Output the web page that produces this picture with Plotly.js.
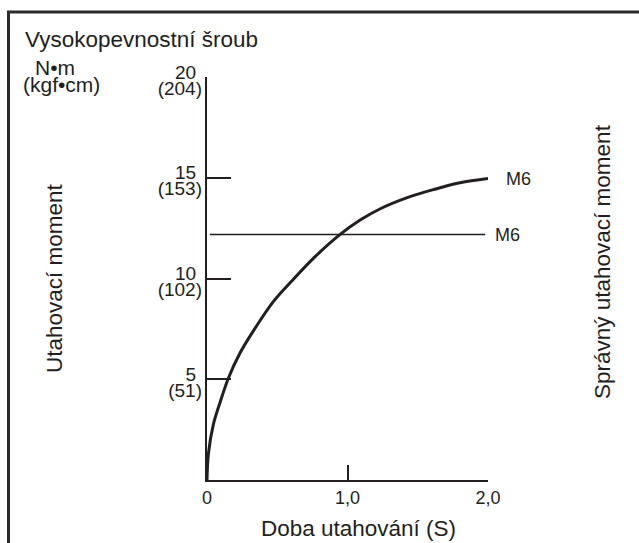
<!DOCTYPE html>
<html>
<head>
<meta charset="utf-8">
<script src="https://cdn.plot.ly/plotly-3.0.1.min.js"></script>
<style>html,body{margin:0;padding:0;background:#fff;}</style>
</head>
<body>
<div id="chart" style="width:639px;height:543px;"></div>
<script>
// ---- data ----
const timeS = [0, 0.01, 0.045, 0.093, 0.152, 0.235, 0.33, 0.472, 0.6, 0.757, 0.95, 1.09, 1.23, 1.42, 1.61, 1.80, 2.0];
const torqueNm = [0, 1.3, 2.75, 3.85, 5.05, 6.3, 7.4, 8.85, 9.85, 11.0, 12.2, 12.9, 13.45, 14.0, 14.41, 14.75, 14.96];
const correctTime = [0.02, 1.98];
const correctTorque = [12.18, 12.18];
const xTickVals = [0, 1, 2];
const xTickText = ['0', '1,0', '2,0'];
const yTickVals = [5, 10, 15, 20];
const yTickNm = ['5', '10', '15', '20'];
const yTickKgf = ['(51)', '(102)', '(153)', '(204)'];
const seriesLabel = 'M6';

// ---- layout helpers ----
const W = 639, H = 543, L = 207, R = 488, T = 77, B = 480;
const px = x => (x - L) / (R - L);
const py = y => (B - y) / (B - T);
const FONT = 'Liberation Sans, Arial, Helvetica, sans-serif';
const INK = '#231f20';

const traces = [
  {x: timeS, y: torqueNm, mode: 'lines', line: {color: INK, width: 3, shape: 'spline', smoothing: 1}, hoverinfo: 'skip', showlegend: false},
  {x: correctTime, y: correctTorque, mode: 'lines', line: {color: INK, width: 1.6}, hoverinfo: 'skip', showlegend: false},
  {x: [null], y: [null], yaxis: 'y2', showlegend: false, hoverinfo: 'skip'}
];

const layout = {
  width: W, height: H, autosize: false,
  margin: {l: L, r: W - R, t: T, b: H - B, pad: 0},
  paper_bgcolor: '#fff', plot_bgcolor: '#fff',
  font: {family: FONT, color: INK},
  showlegend: false,
  title: {text: 'Vysokopevnostní šroub', xref: 'container', yref: 'container', x: 25 / W, xanchor: 'left', y: 1 - 39 / H, yanchor: 'middle', font: {size: 22.5, color: INK, family: FONT}},
  xaxis: {
    range: [0, 2], fixedrange: true,
    showline: true, linecolor: INK, linewidth: 2,
    showgrid: false, zeroline: false,
    ticks: 'inside', ticklen: 15, tickwidth: 2, tickcolor: INK,
    tickvals: xTickVals, ticktext: xTickText,
    tickfont: {size: 18, family: FONT, color: INK}
  },
  yaxis: {
    range: [0, 20], fixedrange: true,
    showline: true, linecolor: INK, linewidth: 2,
    showgrid: false, zeroline: false,
    ticks: 'inside', ticklen: 24, tickwidth: 2, tickcolor: INK,
    tickvals: yTickVals, ticktext: yTickNm,
    ticklabelshift: -5, ticklabelstandoff: 5,
    tickfont: {size: 19, family: FONT, color: INK}
  },
  yaxis2: {
    range: [0, 20], fixedrange: true, overlaying: 'y', side: 'left', anchor: 'x',
    showline: false, showgrid: false, zeroline: false, ticks: '',
    tickvals: yTickVals, ticktext: yTickKgf,
    ticklabelshift: 11, ticklabelstandoff: 4,
    tickfont: {size: 19, family: FONT, color: INK}
  },
  shapes: [
    {type: 'path', xref: 'paper', yref: 'paper',
     path: `M ${px(8.5)} ${py(560)} L ${px(8.5)} ${py(12)} L ${px(660)} ${py(12)}`,
     line: {color: '#2a2a2a', width: 3}}
  ],
  annotations: [
    {text: 'N•m', xref: 'paper', yref: 'paper', x: px(55), y: py(67), showarrow: false, xanchor: 'center', yanchor: 'middle', font: {size: 21, family: FONT, color: INK}},
    {text: '(kgf•cm)', xref: 'paper', yref: 'paper', x: px(61), y: py(85), showarrow: false, xanchor: 'center', yanchor: 'middle', font: {size: 21, family: FONT, color: INK}},
    {text: 'Utahovací moment', xref: 'paper', yref: 'paper', x: px(54), y: py(278), textangle: -90, showarrow: false, xanchor: 'center', yanchor: 'middle', font: {size: 22.5, family: FONT, color: INK}},
    {text: 'Správný utahovací moment', xref: 'paper', yref: 'paper', x: px(602), y: py(262), textangle: -90, showarrow: false, xanchor: 'center', yanchor: 'middle', font: {size: 22.5, family: FONT, color: INK}},
    {text: 'Doba utahování (S)', xref: 'paper', yref: 'paper', x: px(358), y: py(528), showarrow: false, xanchor: 'center', yanchor: 'middle', font: {size: 22.5, family: FONT, color: INK}},
    {text: seriesLabel, xref: 'x', yref: 'y', x: timeS[timeS.length - 1], y: torqueNm[torqueNm.length - 1], xshift: 16, showarrow: false, xanchor: 'left', yanchor: 'middle', font: {size: 18, family: FONT, color: INK}},
    {text: seriesLabel, xref: 'x', yref: 'y', x: correctTime[1], y: correctTorque[1], xshift: 8, showarrow: false, xanchor: 'left', yanchor: 'middle', font: {size: 18, family: FONT, color: INK}}
  ]
};

Plotly.newPlot('chart', traces, layout, {staticPlot: true, displayModeBar: false});
</script>
</body>
</html>
